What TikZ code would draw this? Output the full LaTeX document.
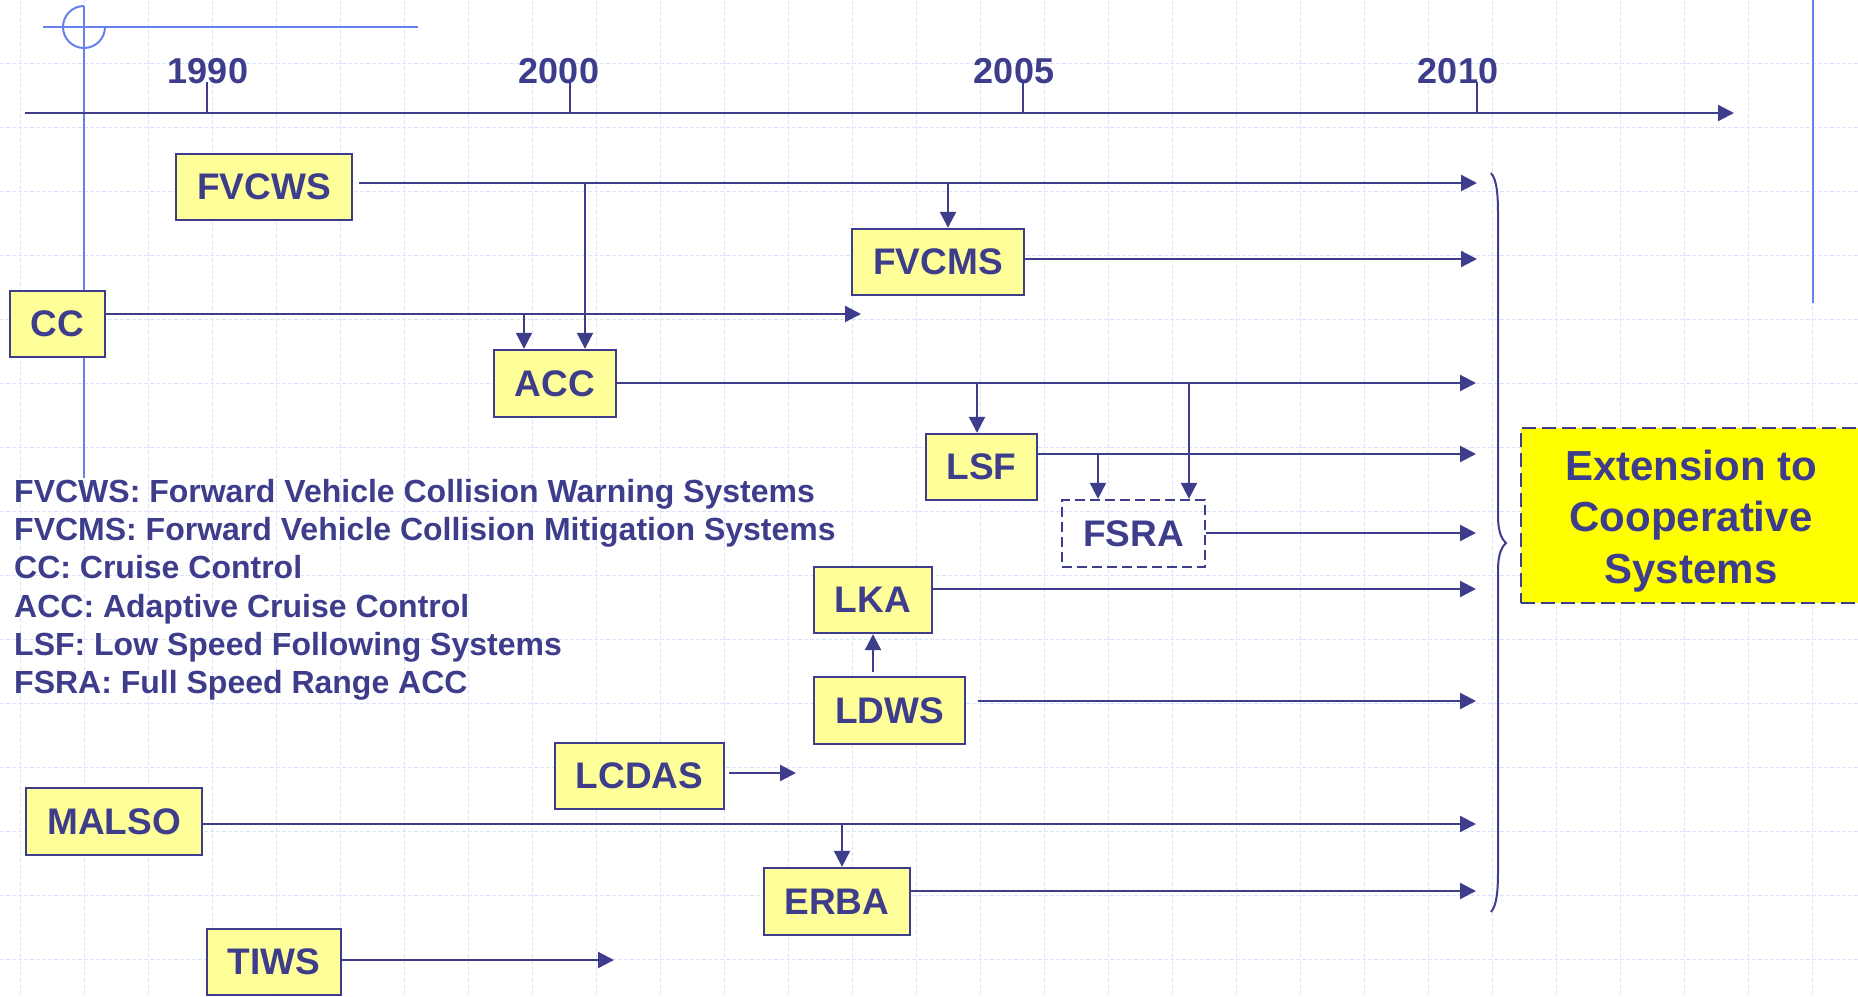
\documentclass[tikz,border=0pt]{standalone}
\usepackage{fontspec}
\setmainfont{Liberation Sans}
\usetikzlibrary{arrows.meta}
\definecolor{dkblue}{RGB}{61,61,140}
\definecolor{boxyel}{RGB}{255,255,153}
\definecolor{extyel}{RGB}{255,255,0}
\definecolor{ltblue}{RGB}{102,128,238}
\definecolor{gridc}{RGB}{218,226,252}
\begin{document}
\begin{tikzpicture}[x=1pt,y=-1pt,
  box/.style={draw=dkblue, fill=boxyel, line width=2.4pt, text=dkblue, font=\bfseries\fontsize{37}{44}\selectfont, inner sep=0pt},
  arr/.style={draw=dkblue, line width=2.2pt, -{Triangle[length=16pt,width=16pt]}},
  plainline/.style={draw=dkblue, line width=2.2pt},
  deco/.style={draw=ltblue, line width=2pt},
  gridline/.style={draw=gridc, line width=1pt, dash pattern=on 4pt off 2pt},
  year/.style={text=dkblue, font=\bfseries\fontsize{36}{40}\selectfont, anchor=base, inner sep=0pt},
  legend/.style={text=dkblue, font=\bfseries\fontsize{32}{38}\selectfont, anchor=base west, inner sep=0pt},
]
\clip (0,0) rectangle (1858,996);
\fill[white] (0,0) rectangle (1858,996);
% background grid
\foreach \gx in {20,84,...,1876} \draw[gridline] (\gx,0) -- (\gx,996);
\foreach \gy in {63,127,...,1000} \draw[gridline] (0,\gy) -- (1858,\gy);
% decorative light blue lines
\draw[deco] (43,27) -- (418,27);
\draw[deco] (84,6) -- (84,478);
\draw[deco] (84,6) arc[start angle=270, end angle=0, radius=21];
\draw[deco] (1813,0) -- (1813,303);
% timeline
\coordinate (ax0) at (25,113);
\coordinate (ax1) at (1734,113);
\draw[arr] (ax0) -- (ax1);
\foreach \tx in {207,570,1023,1477} \draw[plainline] (\tx,82) -- (\tx,113);
\node[year] (y1990) at (208,83) {1990};
\node[year] (y2000) at (559,83) {2000};
\node[year] (y2005) at (1014,83) {2005};
\node[year] (y2010) at (1458,83) {2010};
% boxes
\node[box, minimum width=176pt, minimum height=66pt] (FVCWS) at (264,187) {FVCWS};
\node[box, minimum width=172pt, minimum height=66pt] (FVCMS) at (938,262) {FVCMS};
\node[box, minimum width=95pt, minimum height=66pt] (CC) at (57.5,324) {CC};
\node[box, minimum width=122pt, minimum height=67pt] (ACC) at (555,383.5) {ACC};
\node[box, minimum width=111pt, minimum height=66pt] (LSF) at (981.5,467) {LSF};
\node[box, fill=none, dash pattern=on 10pt off 5pt, minimum width=143pt, minimum height=67pt] (FSRA) at (1133.5,533.5) {FSRA};
\node[box, minimum width=118pt, minimum height=66pt] (LKA) at (873,600) {LKA};
\node[box, minimum width=151pt, minimum height=67pt] (LDWS) at (889.5,710.5) {LDWS};
\node[box, minimum width=169pt, minimum height=66pt] (LCDAS) at (639.5,776) {LCDAS};
\node[box, minimum width=176pt, minimum height=67pt] (MALSO) at (114,821.5) {MALSO};
\node[box, minimum width=146pt, minimum height=67pt] (ERBA) at (837,901.5) {ERBA};
\node[box, minimum width=134pt, minimum height=66pt] (TIWS) at (274,962) {TIWS};
\node[box, fill=extyel, dash pattern=on 14pt off 6pt, font=\bfseries\fontsize{42}{51.5}\selectfont, minimum width=340pt, minimum height=175pt] (EXT) at (1691,515.5) {\raisebox{-3pt}[\dimexpr\height+3pt\relax][\dimexpr\depth-3pt\relax]{\begin{tabular}{@{}c@{}}Extension to\\Cooperative\\Systems\end{tabular}}};
% arrow end points and junctions
\coordinate (t1) at (1477,183);
\coordinate (t2) at (1477,259);
\coordinate (t3) at (861,314);
\coordinate (t4) at (1476,383);
\coordinate (t5) at (1476,454);
\coordinate (t6) at (1476,533);
\coordinate (t7) at (1476,589);
\coordinate (t8) at (1476,701);
\coordinate (t9) at (796,773);
\coordinate (t10) at (1476,824);
\coordinate (t11) at (1476,891);
\coordinate (t12) at (614,960);
\coordinate (j1) at (585,183);
\coordinate (j2) at (948,183);
\coordinate (j3) at (524,314);
\coordinate (j4) at (977,383);
\coordinate (j5) at (1189,383);
\coordinate (j6) at (1098,454);
\coordinate (j7) at (842,824);
% connectors
\draw[arr, shorten <=6pt] (FVCWS.east |- t1) -- (t1);
\draw[arr] (j1) -- (j1 |- ACC.north);
\draw[arr] (j2) -- (j2 |- FVCMS.north);
\draw[arr] (FVCMS.east |- t2) -- (t2);
\draw[arr] (CC.east |- t3) -- (t3);
\draw[arr] (j3) -- (j3 |- ACC.north);
\draw[arr] (ACC.east |- t4) -- (t4);
\draw[arr] (j4) -- (j4 |- LSF.north);
\draw[arr] (j5) -- (j5 |- FSRA.north);
\draw[arr] (LSF.east |- t5) -- (t5);
\draw[arr] (j6) -- (j6 |- FSRA.north);
\draw[arr] (FSRA.east |- t6) -- (t6);
\draw[arr] (LKA.east |- t7) -- (t7);
\draw[arr, shorten <=4pt] (LDWS.north -| LKA.south) -- (LKA.south);
\draw[arr, shorten <=12pt] (LDWS.east |- t8) -- (t8);
\draw[arr, shorten <=4pt] (LCDAS.east |- t9) -- (t9);
\draw[arr] (MALSO.east |- t10) -- (t10);
\draw[arr] (j7) -- (j7 |- ERBA.north);
\draw[arr] (ERBA.east |- t11) -- (t11);
\draw[arr] (TIWS.east |- t12) -- (t12);
% brace
\draw[dkblue, line width=2pt] (1491,173) .. controls (1497,180) and (1498,195) .. (1498,215)
  -- (1498,515) .. controls (1498,535) and (1503,540) .. (1506,543)
  .. controls (1503,546) and (1498,551) .. (1498,571)
  -- (1498,870) .. controls (1498,890) and (1497,905) .. (1491,912);
% legend
\node[legend] (L1) at (14,502) {FVCWS: Forward Vehicle Collision Warning Systems};
\node[legend] (L2) at (14,540) {FVCMS: Forward Vehicle Collision Mitigation Systems};
\node[legend] (L3) at (14,578) {CC: Cruise Control};
\node[legend] (L4) at (14,617) {ACC: Adaptive Cruise Control};
\node[legend] (L5) at (14,655) {LSF: Low Speed Following Systems};
\node[legend] (L6) at (14,693) {FSRA: Full Speed Range ACC};
\end{tikzpicture}
\end{document}
